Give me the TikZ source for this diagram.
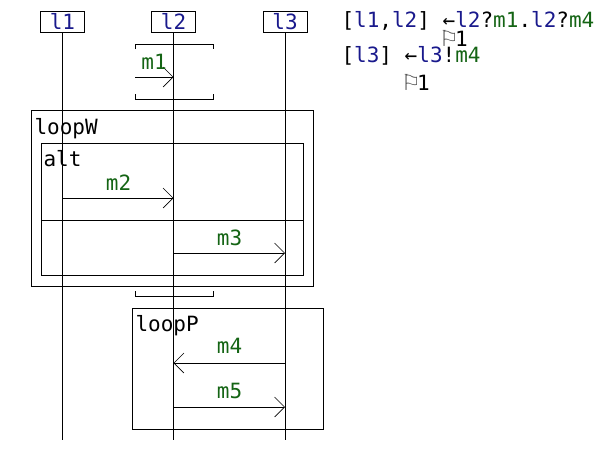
\documentclass[tikz,border=0pt]{standalone}
\usepackage{fontspec}
\setmainfont{DejaVu Sans Mono}
\newfontfamily\flagfont{DejaVu Sans}
\usetikzlibrary{arrows.meta}

\definecolor{lfblue}{RGB}{25,25,140}
\definecolor{msggreen}{RGB}{20,100,20}
\newcommand{\lf}[1]{\textcolor{lfblue}{#1}}
\newcommand{\mg}[1]{\textcolor{msggreen}{#1}}
\newcommand{\flg}{\makebox[12.6pt][l]{\kern-3.5pt\textcolor{gray!60!black}{\fontsize{22}{22}\flagfont ⚐}}}

\begin{document}
\begin{tikzpicture}[x=1pt, y=-1pt, line width=1pt,
    every node/.style={font=\fontsize{21}{25}\selectfont, inner sep=0pt},
    lifebox/.style={draw, minimum width=44pt, minimum height=21pt, text=lfblue},
    msg/.style={-{Straight Barb[length=10pt, width=20pt, line width=0.6pt]}},
    msglabel/.style={anchor=base, text=msggreen},
    framelabel/.style={anchor=base west}
]
    \useasboundingbox (0,0) rectangle (604,451);

    % Lifelines
    \node[lifebox] (l1) at (62.5,21.5) {l1};
    \node[lifebox] (l2) at (173.5,21.5) {l2};
    \node[lifebox] (l3) at (285,21.5) {l3};
    \foreach \l in {l1,l2,l3}
        \draw (\l.south) -- (\l.south |- 0,440);

    % Gate m1 with brackets
    \draw (135,49) -- (135,44) -- (213,44) -- (213,49);
    \draw (135,94) -- (135,99) -- (213,99) -- (213,94);
    \coordinate (g1) at (135,77);
    \draw[msg] (g1) -- (l2 |- g1);
    \node[msglabel] (m1) at (154,69) {m1};

    % loopW with nested alt
    \draw (31,110) rectangle (313,286);
    \node[framelabel] (loopW) at (34,134) {loopW};
    \draw (41,143) rectangle (303,275);
    \draw (41,220) -- (303,220);
    \node[framelabel] (alt) at (43,166.5) {alt};
    \draw[msg] (l1 |- 0,198) -- (l2 |- 0,198);
    \node[msglabel] (m2) at (118.5,190) {m2};
    \draw[msg] (l2 |- 0,253) -- (l3 |- 0,253);
    \node[msglabel] (m3) at (229.5,245) {m3};

    \draw (135,291) -- (135,296.5) -- (213,296.5) -- (213,291);

    % loopP
    \draw (132,308) rectangle (323,429);
    \node[framelabel] (loopP) at (135,331.5) {loopP};
    \draw[msg] (l3 |- 0,363) -- (l2 |- 0,363);
    \node[msglabel] (m4) at (229.5,353.5) {m4};
    \draw[msg] (l2 |- 0,407) -- (l3 |- 0,407);
    \node[msglabel] (m5) at (229.5,398.5) {m5};

    % Local views
    \node[anchor=base west] (v1) at (341,27) {[\lf{l1},\lf{l2}] ←\lf{l2}?\mg{m1}.\lf{l2}?\mg{m4}};
    \node[anchor=base west] (f1) at (442,46) {\flg 1};
    \node[anchor=base west] (v2) at (341,62) {[\lf{l3}] ←\lf{l3}!\mg{m4}};
    \node[anchor=base west] (f2) at (404,90.5) {\flg 1};
\end{tikzpicture}
\end{document}
